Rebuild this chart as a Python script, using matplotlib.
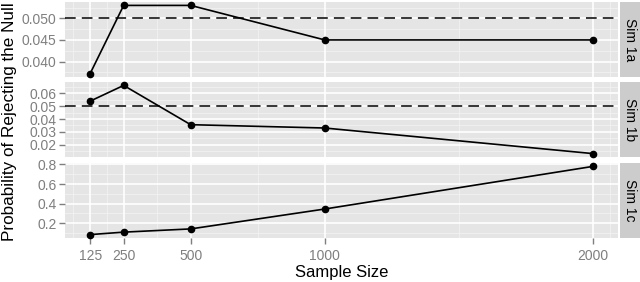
import matplotlib
matplotlib.use("Agg")
import matplotlib.pyplot as plt
import numpy as np

plt.rcParams["font.family"] = ["Liberation Sans", "DejaVu Sans"]

sizes = [125, 250, 500, 1000, 2000]
sim_names = ["Sim 1a", "Sim 1b", "Sim 1c"]
sim1a = [0.0372, 0.0530, 0.0530, 0.0450, 0.0450]
sim1b = [0.0540, 0.0663, 0.0356, 0.0330, 0.0130]
sim1c = [0.084, 0.109, 0.142, 0.345, 0.780]
series = [sim1a, sim1b, sim1c]
hlines = [0.05, 0.05, None]
yticks = [[0.040, 0.045, 0.050], [0.02, 0.03, 0.04, 0.05, 0.06], [0.2, 0.4, 0.6, 0.8]]
yfmt = ["{:.3f}", "{:.2f}", "{:.1f}"]
xticks = [125, 250, 500, 1000, 2000]
xminor = [62.5, 187.5, 375, 750, 1500, 2062.5]

W, H = 640, 282
fig = plt.figure(figsize=(W / 100, H / 100), dpi=100)
fig.patch.set_facecolor("white")

left, right = 65, 618
panels_px = [(2, 77), (82, 157), (163, 238)]
strip_l, strip_r = 620, 640
gray_txt = "#7F7F7F"

xmin, xmax = 125, 2000
xr = xmax - xmin
xlim = (xmin - 0.05 * xr, xmax + 0.05 * xr)

def minor_between(t):
    t = list(t)
    step = t[1] - t[0]
    return [t[0] - step / 2] + [(a + b) / 2 for a, b in zip(t[:-1], t[1:])] + [t[-1] + step / 2]

for i, (vals, hl, yt, fmt, name) in enumerate(zip(series, hlines, yticks, yfmt, sim_names)):
    top, bot = panels_px[i]
    ax = fig.add_axes([left / W, 1 - bot / H, (right - left) / W, (bot - top) / H])
    ax.set_facecolor("#E5E5E5")
    lo = min(vals + ([hl] if hl else []))
    hi = max(vals + ([hl] if hl else []))
    r = hi - lo
    ax.set_ylim(lo - 0.05 * r, hi + 0.05 * r)
    ax.set_xlim(*xlim)
    for m in minor_between(yt):
        ax.axhline(m, color="#F2F2F2", lw=0.6, zorder=0)
    for m in xminor:
        ax.axvline(m, color="#F2F2F2", lw=0.6, zorder=0)
    for t in yt:
        ax.axhline(t, color="white", lw=1.2, zorder=0.5)
    for t in xticks:
        ax.axvline(t, color="white", lw=1.2, zorder=0.5)
    if hl is not None:
        ax.axhline(hl, color="black", lw=1.1, ls=(0, (7, 4)), zorder=2)
    ax.plot(sizes, vals, color="black", lw=1.2, marker="o", ms=4.5, zorder=3, clip_on=False)
    ax.set_yticks(yt)
    ax.set_yticklabels([fmt.format(t) for t in yt], color=gray_txt, fontsize=10)
    ax.set_xticks(xticks)
    ax.tick_params(axis="y", color=gray_txt, length=4, width=1, pad=2)
    ax.tick_params(axis="x", color=gray_txt, length=4, width=1, pad=4)
    if i == 2:
        ax.set_xticklabels([str(t) for t in xticks], color=gray_txt, fontsize=10)
    else:
        ax.set_xticklabels([])
        ax.tick_params(axis="x", length=0)
    for s in ax.spines.values():
        s.set_visible(False)
    sax = fig.add_axes([strip_l / W, 1 - bot / H, (strip_r - strip_l) / W, (bot - top) / H])
    sax.set_facecolor("#CCCCCC")
    sax.set_xticks([]); sax.set_yticks([])
    for s in sax.spines.values():
        s.set_visible(False)
    sax.text(0.5, 0.5, name, rotation=-90, ha="center", va="center",
             fontsize=10, color="black", transform=sax.transAxes)

fig.text((left + right) / 2 / W, 1 - 272 / H, "Sample Size", ha="center", va="center", fontsize=12)
fig.text(10 / W, 1 - 122 / H, "Probability of Rejecting the Null", rotation=90,
         ha="center", va="center", fontsize=12.3)

fig.savefig("out.png", dpi=100)
